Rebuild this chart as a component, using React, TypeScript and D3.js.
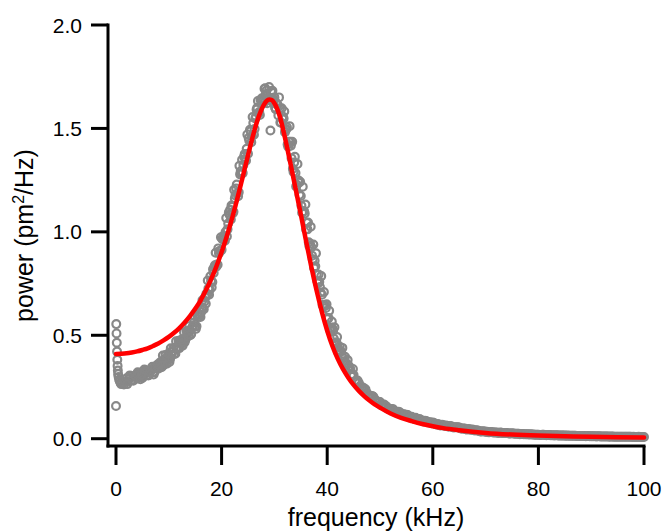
import React from 'react';
import * as d3 from 'd3';

const WIDTH = 664;
const HEIGHT = 532;

const xTickValues = [0, 20, 40, 60, 80, 100];
const yTickValues = [0, 0.5, 1.0, 1.5, 2.0];
const xTitle = 'frequency (kHz)';

// measured spectrum (kHz, pm^2/Hz)
const lowBandPoints: [number, number][] = [
  [0, 0.158], [0.05, 0.554], [0.1, 0.509], [0.15, 0.464], [0.2, 0.421], [0.25, 0.382],
  [0.3, 0.352], [0.35, 0.33], [0.4, 0.312], [0.5, 0.298], [0.6, 0.285], [0.75, 0.276],
  [0.9, 0.268], [1, 0.264], [1.25, 0.27], [1.5, 0.262], [1.75, 0.278],
];

const risingPoints: [number, number][] = [
  [2, 0.292], [2.25, 0.276], [2.5, 0.291], [2.75, 0.301], [3, 0.285], [3.25, 0.28], [3.5, 0.302], [3.75, 0.297],
  [4, 0.291], [4.25, 0.311], [4.5, 0.299], [4.75, 0.309], [5, 0.294], [5.25, 0.31], [5.5, 0.32], [5.75, 0.307],
  [6, 0.322], [6.25, 0.308], [6.5, 0.326], [6.75, 0.337], [7, 0.323], [7.25, 0.32], [7.5, 0.345], [7.75, 0.342],
  [8, 0.338], [8.25, 0.361], [8.5, 0.354], [8.75, 0.367], [9, 0.355], [9.25, 0.374], [9.5, 0.388], [9.75, 0.378],
  [10, 0.397], [10.25, 0.386], [10.5, 0.407], [10.75, 0.421], [11, 0.41], [11.25, 0.411], [11.5, 0.438], [11.75, 0.439],
  [12, 0.438], [12.25, 0.464], [12.5, 0.459], [12.75, 0.475], [13, 0.466], [13.25, 0.488], [13.5, 0.505], [13.75, 0.497],
  [14, 0.524], [14.25, 0.506], [14.5, 0.538], [14.75, 0.562], [15, 0.544], [15.25, 0.544], [15.5, 0.59], [15.75, 0.59],
  [16, 0.588], [16.25, 0.636], [16.5, 0.631], [16.75, 0.663], [17, 0.652], [17.25, 0.694], [17.5, 0.726], [17.75, 0.72],
  [18, 0.762], [18.25, 0.757], [18.5, 0.801], [18.75, 0.838], [19, 0.832], [19.25, 0.841], [19.5, 0.897], [19.75, 0.906],
  [20, 0.913], [20.25, 0.964], [20.5, 0.964], [20.75, 0.999],
];

const risingPointsB: [number, number][] = [
  [2.125, 0.264], [2.625, 0.306], [3.125, 0.284], [3.625, 0.306], [4.125, 0.321], [4.625, 0.287], [5.125, 0.302],
  [5.625, 0.331], [6.125, 0.306], [6.625, 0.33], [7.125, 0.31], [7.625, 0.352], [8.125, 0.35], [8.625, 0.345],
  [9.125, 0.384], [9.625, 0.363], [10.125, 0.371], [10.625, 0.424], [11.125, 0.412], [11.625, 0.445], [12.125, 0.471],
  [12.625, 0.45], [13.125, 0.477], [13.625, 0.519], [14.125, 0.502], [14.625, 0.546], [15.125, 0.531], [15.625, 0.6],
  [16.125, 0.612], [16.625, 0.626], [17.125, 0.701], [17.625, 0.696], [18.125, 0.731], [18.625, 0.83], [19.125, 0.842],
  [19.625, 0.908], [20.125, 0.966], [20.625, 0.957],
];

const risingPointsC: [number, number][] = [
  [4.375, 0.318], [4.875, 0.31], [5.375, 0.334], [5.875, 0.327], [6.375, 0.321], [6.875, 0.348], [7.375, 0.343],
  [7.875, 0.359], [8.375, 0.369], [8.875, 0.402], [9.375, 0.405], [9.875, 0.411], [10.375, 0.437], [10.875, 0.437],
  [11.375, 0.471], [11.875, 0.474], [12.375, 0.478], [12.875, 0.515], [13.375, 0.519], [13.875, 0.544], [14.375, 0.535],
  [14.875, 0.592], [15.375, 0.6], [15.875, 0.614], [16.375, 0.669], [16.875, 0.684], [17.375, 0.765], [17.875, 0.785],
  [18.375, 0.819], [18.875, 0.899], [19.375, 0.92], [19.875, 0.974], [20.375, 0.98], [20.875, 1.067],
];

const peakPoints: [number, number][] = [
  [21, 0.978], [21.25, 1.04], [21.5, 1.083], [21.75, 1.06], [22, 1.121], [22.25, 1.097], [22.5, 1.161], [22.75, 1.21],
  [23, 1.186], [23.25, 1.191], [23.5, 1.278], [23.75, 1.283], [24, 1.284], [24.25, 1.363], [24.5, 1.351], [24.75, 1.402],
  [25, 1.378], [25.25, 1.441], [25.5, 1.486], [25.75, 1.463], [26, 1.526], [26.25, 1.497], [26.5, 1.556], [26.75, 1.6],
  [27, 1.571], [27.25, 1.565], [27.5, 1.64], [27.75, 1.634], [28, 1.624], [28.25, 1.694], [28.5, 1.683], [28.75, 1.636],
  [29, 1.7], [29.25, 1.49], [29.5, 1.675], [29.75, 1.628], [30, 1.65], [30.25, 1.593], [30.5, 1.616], [30.75, 1.563],
  [31, 1.598], [31.25, 1.528], [31.5, 1.547], [31.75, 1.548], [32, 1.482], [32.25, 1.496], [32.5, 1.422], [32.75, 1.436],
  [33, 1.435], [33.25, 1.356], [33.5, 1.305], [33.75, 1.335], [34, 1.284], [34.25, 1.228], [34.5, 1.25], [34.75, 1.179],
  [35, 1.173], [35.25, 1.092], [35.5, 1.1], [35.75, 1.089], [36, 1.012],
];

const peakPointsB: [number, number][] = [
  [21.125, 1.012], [21.625, 1.107], [22.125, 1.09], [22.625, 1.176], [23.125, 1.172], [23.625, 1.293], [24.125, 1.323],
  [24.625, 1.344], [25.125, 1.454], [25.625, 1.433], [26.125, 1.47], [26.625, 1.591], [27.125, 1.579], [27.625, 1.646],
  [28.125, 1.692], [28.625, 1.622], [29.125, 1.647], [29.625, 1.682], [30.125, 1.601], [30.625, 1.613], [31.125, 1.529],
  [31.625, 1.557], [32.125, 1.492], [32.625, 1.411], [33.125, 1.417], [33.625, 1.289], [34.125, 1.219], [34.625, 1.238],
  [35.125, 1.126], [35.625, 1.1],
];

const peakPointsC: [number, number][] = [
  [21.375, 1.094], [21.875, 1.127], [22.375, 1.203], [22.875, 1.229], [23.375, 1.319], [23.875, 1.348], [24.375, 1.376],
  [24.875, 1.471], [25.375, 1.493], [25.875, 1.555], [26.375, 1.548], [26.875, 1.633], [27.375, 1.638], [27.875, 1.646],
  [28.375, 1.666], [28.875, 1.649], [29.375, 1.679], [29.875, 1.64], [30.375, 1.623], [30.875, 1.65], [31.375, 1.597],
  [31.875, 1.582], [32.375, 1.506], [32.875, 1.511], [33.375, 1.435], [33.875, 1.363], [34.375, 1.328], [34.875, 1.242],
  [35.375, 1.218], [35.875, 1.132],
];

const fallingPoints: [number, number][] = [
  [36.25, 1.012], [36.5, 0.95], [36.75, 0.943], [37, 0.927], [37.25, 0.867], [37.5, 0.826], [37.75, 0.834], [38, 0.792],
  [38.25, 0.751], [38.5, 0.758], [38.75, 0.707], [39, 0.696], [39.25, 0.641], [39.5, 0.642], [39.75, 0.632], [40, 0.579],
  [40.25, 0.583], [40.5, 0.532], [40.75, 0.537], [41, 0.532], [41.25, 0.484], [41.5, 0.463], [41.75, 0.466], [42, 0.441],
  [42.25, 0.419], [42.5, 0.424], [42.75, 0.397], [43, 0.391], [43.25, 0.362], [43.5, 0.364], [43.75, 0.36], [44, 0.332],
  [44.25, 0.335], [44.5, 0.308], [44.75, 0.312], [45, 0.308],
];

const fallingPointsB: [number, number][] = [
  [36.125, 1.044], [36.625, 0.931], [37.125, 0.885], [37.625, 0.86], [38.125, 0.762], [38.625, 0.733], [39.125, 0.646],
  [39.625, 0.644], [40.125, 0.583], [40.625, 0.522], [41.125, 0.522], [41.625, 0.452], [42.125, 0.415], [42.625, 0.42],
  [43.125, 0.374], [43.625, 0.365], [44.125, 0.351], [44.625, 0.3],
];

const fallingPointsC: [number, number][] = [
  [36.375, 1.045], [36.875, 1.025], [37.375, 0.939], [37.875, 0.896], [38.375, 0.794], [38.875, 0.786], [39.375, 0.709],
  [39.875, 0.65], [40.375, 0.618], [40.875, 0.566], [41.375, 0.539], [41.875, 0.492], [42.375, 0.445], [42.875, 0.439],
  [43.375, 0.396], [43.875, 0.38], [44.375, 0.335], [44.875, 0.337],
];

const tailPoints: [number, number][] = [
  [45.5, 0.275], [46, 0.269], [46.5, 0.243], [47, 0.242], [47.5, 0.222], [48, 0.206], [48.5, 0.207], [49, 0.191],
  [49.5, 0.177], [50, 0.177], [50.5, 0.164], [51, 0.16], [51.5, 0.145], [52, 0.144], [52.5, 0.142], [53, 0.129],
  [53.5, 0.13], [54, 0.117], [54.5, 0.118], [55, 0.116], [55.5, 0.105], [56, 0.106], [56.5, 0.095], [57, 0.097],
  [57.5, 0.095], [58, 0.086], [58.5, 0.087], [59, 0.079], [59.5, 0.079], [60, 0.078], [60.5, 0.07], [61, 0.071],
  [61.5, 0.064], [62, 0.065], [62.5, 0.064], [63, 0.058], [63.5, 0.06], [64, 0.054], [64.5, 0.055], [65, 0.054],
  [65.5, 0.048], [66, 0.049], [66.5, 0.044], [67, 0.045], [67.5, 0.044], [68, 0.04], [68.5, 0.04], [69, 0.035],
  [69.5, 0.036], [70, 0.034], [70.5, 0.031], [71, 0.032], [71.5, 0.03], [72, 0.03], [72.5, 0.028], [73, 0.029],
  [73.5, 0.027], [74, 0.027], [74.5, 0.025], [75, 0.026], [75.5, 0.024], [76, 0.024], [76.5, 0.022], [77, 0.023],
  [77.5, 0.022], [78, 0.021], [78.5, 0.021], [79, 0.02], [79.5, 0.019], [80, 0.019], [80.5, 0.018], [81, 0.019],
  [81.5, 0.017], [82, 0.018], [82.5, 0.017], [83, 0.016], [83.5, 0.017], [84, 0.015], [84.5, 0.016], [85, 0.015],
  [85.5, 0.015], [86, 0.014], [86.5, 0.014], [87, 0.014], [87.5, 0.013], [88, 0.013], [88.5, 0.013], [89, 0.012],
  [89.5, 0.013], [90, 0.012], [90.5, 0.012], [91, 0.011], [91.5, 0.012], [92, 0.011], [92.5, 0.011], [93, 0.011],
  [93.5, 0.01], [94, 0.011], [94.5, 0.01], [95, 0.01], [95.5, 0.01], [96, 0.009], [96.5, 0.01], [97, 0.009],
  [97.5, 0.009], [98, 0.009], [98.5, 0.008], [99, 0.009], [99.5, 0.008], [100, 0.008],
];

const tailPointsB: [number, number][] = [
  [45.25, 0.278], [45.75, 0.281], [46.25, 0.254], [46.75, 0.248], [47.25, 0.239], [47.75, 0.212], [48.25, 0.205],
  [48.75, 0.203], [49.25, 0.182], [49.75, 0.179], [50.25, 0.162], [50.75, 0.165], [51.25, 0.155], [51.75, 0.143],
  [52.25, 0.144], [52.75, 0.131], [53.25, 0.124], [53.75, 0.128], [54.25, 0.118], [54.75, 0.116], [55.25, 0.114],
  [55.75, 0.102], [56.25, 0.1], [56.75, 0.101], [57.25, 0.092], [57.75, 0.091], [58.25, 0.083], [58.75, 0.085],
  [59.25, 0.08], [59.75, 0.075], [60.25, 0.076], [60.75, 0.069], [61.25, 0.065], [61.75, 0.067], [62.25, 0.062],
  [62.75, 0.062], [63.25, 0.061], [63.75, 0.0555], [64.25, 0.055], [64.75, 0.055], [65.25, 0.05], [65.75, 0.0497],
  [66.25, 0.0456], [66.75, 0.0465], [67.25, 0.0435], [67.75, 0.0406], [68.25, 0.0407], [68.75, 0.0368], [69.25, 0.0345],
  [69.75, 0.035], [70.25, 0.033], [70.75, 0.031], [71.25, 0.0315], [71.75, 0.03], [72.25, 0.029], [72.75, 0.0295],
  [73.25, 0.027], [73.75, 0.028], [74.25, 0.026], [74.75, 0.0255], [75.25, 0.025], [75.75, 0.0235], [76.25, 0.0235],
  [76.75, 0.0225], [77.25, 0.0215], [77.75, 0.022], [78.25, 0.0205], [78.75, 0.0205], [79.25, 0.0195], [79.75, 0.0195],
  [80.25, 0.018], [80.75, 0.0185], [81.25, 0.018], [81.75, 0.0175], [82.25, 0.017], [82.75, 0.0165], [83.25, 0.0165],
  [83.75, 0.016], [84.25, 0.0155], [84.75, 0.015], [85.25, 0.0145], [85.75, 0.0148], [86.25, 0.014], [86.75, 0.0138],
  [87.25, 0.0135], [87.75, 0.0132], [88.25, 0.013], [88.75, 0.0125], [89.25, 0.0125], [89.75, 0.012], [90.25, 0.0118],
  [90.75, 0.0115], [91.25, 0.0115], [91.75, 0.011], [92.25, 0.0112], [92.75, 0.0105], [93.25, 0.0105], [93.75, 0.0102],
  [94.25, 0.01], [94.75, 0.0098], [95.25, 0.0098], [95.75, 0.0095], [96.25, 0.0092], [96.75, 0.0092], [97.25, 0.009],
  [97.75, 0.0087], [98.25, 0.0086], [98.75, 0.0085], [99.25, 0.0083], [99.75, 0.0082],
];

// fitted curve (kHz, pm^2/Hz)
const fitCurve: [number, number][] = [
  [0, 0.41], [1, 0.411], [2, 0.413], [3, 0.417], [4, 0.422], [5, 0.429], [6, 0.437], [7, 0.448], [8, 0.46],
  [9, 0.475], [10, 0.492], [11, 0.512], [12, 0.535], [13, 0.562], [14, 0.593], [15, 0.628], [16, 0.668],
  [17, 0.716], [18, 0.77], [19, 0.832], [20, 0.902], [21, 0.98], [22, 1.067], [23, 1.163], [24, 1.265],
  [25, 1.37], [26, 1.47], [27, 1.555], [28, 1.614], [28.5, 1.632], [29, 1.64], [29.5, 1.637], [30, 1.622],
  [31, 1.56], [32, 1.455], [33, 1.335], [34, 1.21], [35, 1.085], [36, 0.955], [37, 0.83], [38, 0.715],
  [39, 0.612], [40, 0.522], [41, 0.447], [42, 0.386], [43, 0.336], [44, 0.295], [45, 0.26], [46, 0.231],
  [47, 0.206], [48, 0.185], [49, 0.166], [50, 0.15], [52, 0.122], [54, 0.101], [56, 0.085], [58, 0.071],
  [60, 0.06], [62, 0.051], [65, 0.041], [70, 0.028], [75, 0.02], [80, 0.015], [85, 0.012], [90, 0.009],
  [95, 0.007], [100, 0.006],
];

export default function App() {
  const x = d3.scaleLinear().domain([0, 100]).range([116, 644]);
  const y = d3.scaleLinear().domain([0, 2]).range([438.7, 25]);

  const axisX = 108;
  const axisY = 446;
  const tickLen = 17;

  const points = [
    ...lowBandPoints,
    ...risingPoints,
    ...risingPointsB,
    ...risingPointsC,
    ...peakPoints,
    ...peakPointsB,
    ...peakPointsC,
    ...fallingPoints,
    ...fallingPointsB,
    ...fallingPointsC,
    ...tailPoints,
    ...tailPointsB,
  ];

  const fitLine = d3
    .line<[number, number]>()
    .x((d) => x(d[0]))
    .y((d) => y(d[1]))
    .curve(d3.curveMonotoneX);

  const font = "'Liberation Sans', Arial, Helvetica, sans-serif";

  return (
    <svg
      width={WIDTH}
      height={HEIGHT}
      viewBox={`0 0 ${WIDTH} ${HEIGHT}`}
      style={{ position: 'absolute', left: 0, top: 0, display: 'block', background: '#fff' }}
      fontFamily={font}
    >
      <g>
        {points.map((d, i) => (
          <circle
            key={i}
            cx={x(d[0])}
            cy={y(d[1])}
            r={3.9}
            fill="none"
            stroke="#888888"
            strokeWidth={2.2}
          />
        ))}
      </g>
      <path d={fitLine(fitCurve) || ''} fill="none" stroke="#ff0000" strokeWidth={4.5} strokeLinejoin="round" strokeLinecap="round" />

      {/* y axis */}
      <line x1={axisX} x2={axisX} y1={y(2) - 1.5} y2={axisY + 1.5} stroke="#000" strokeWidth={3} />
      {yTickValues.map((t) => (
        <g key={t}>
          <line x1={axisX - tickLen} x2={axisX} y1={y(t)} y2={y(t)} stroke="#000" strokeWidth={3} />
          <text x={axisX - 26} y={y(t)} dy="0.36em" textAnchor="end" fontSize={21} fill="#000">
            {t.toFixed(1)}
          </text>
        </g>
      ))}

      {/* x axis */}
      <line x1={axisX - 1.5} x2={x(100) + 1.5} y1={axisY} y2={axisY} stroke="#000" strokeWidth={3} />
      {xTickValues.map((t) => (
        <g key={t}>
          <line x1={x(t)} x2={x(t)} y1={axisY} y2={axisY + tickLen + 2} stroke="#000" strokeWidth={3} />
          <text x={x(t)} y={496} textAnchor="middle" fontSize={21} fill="#000">
            {t}
          </text>
        </g>
      ))}

      <text x={(axisX + x(100)) / 2} y={526} textAnchor="middle" fontSize={25} fill="#000">
        {xTitle}
      </text>
      <text transform={`translate(33, ${(y(2) + axisY) / 2}) rotate(-90)`} textAnchor="middle" fontSize={25} fill="#000">
        power (pm<tspan fontSize={16} dy={-9}>2</tspan>
        <tspan dy={9}>/Hz)</tspan>
      </text>
    </svg>
  );
}
